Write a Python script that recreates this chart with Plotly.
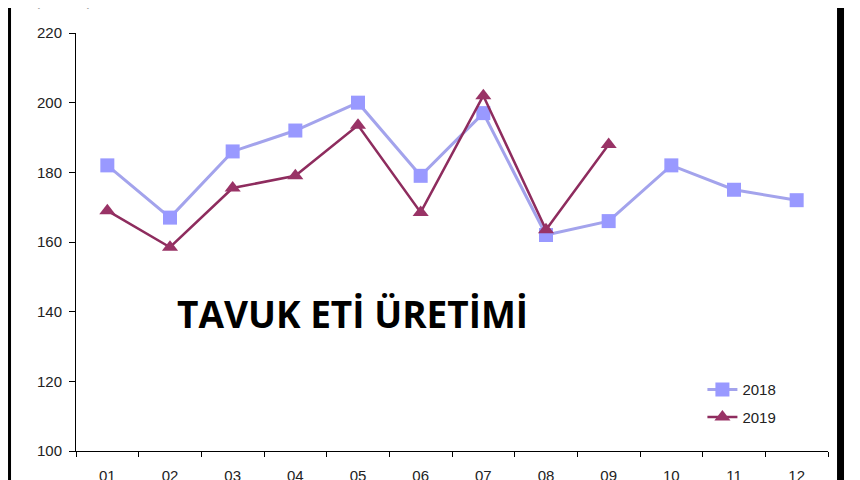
import plotly.graph_objects as go

months = ["01", "02", "03", "04", "05", "06", "07", "08", "09", "10", "11", "12"]
prod_2018 = [182, 167, 186, 192, 200, 179, 197, 162, 166, 182, 175, 172]
prod_2019 = [169, 158.5, 175.5, 179, 193.5, 168.5, 202, 163.5, 188]

fig = go.Figure()

fig.add_trace(go.Scatter(
    x=months, y=prod_2018, name="2018", mode="lines+markers",
    line=dict(color="#A3A3EC", width=3),
    marker=dict(symbol="square", size=14, color="#9999FF"),
    legendgroup="a"))

fig.add_trace(go.Scatter(
    x=months[:len(prod_2019)], y=prod_2019, name="2019", mode="lines+markers",
    line=dict(color="#8E2C5E", width=2.5),
    marker=dict(symbol="triangle-up", size=14, color="#993366"),
    legendgroup="b"))

fig.add_annotation(text="<b>TAVUK ETİ ÜRETİMİ</b>", xref="paper", yref="paper",
                   x=0.368, y=0.262, showarrow=False,
                   font=dict(family="Open Sans", size=37, color="#000000"))

# unit label, mostly cut off at the top edge like in the source image
fig.add_annotation(text="(Bin ton)", xref="paper", yref="paper",
                   x=-0.057, y=1.053, xanchor="left", yanchor="bottom",
                   showarrow=False, font=dict(family="Liberation Sans", size=15, color="#999999"))

# black frame bars on the sides
fig.add_shape(type="rect", xref="paper", yref="paper", x0=-0.0904, x1=-0.0864,
              y0=-0.2, y1=1.2, fillcolor="black", line_width=0, layer="above")
fig.add_shape(type="rect", xref="paper", yref="paper", x0=1.0120, x1=1.0213,
              y0=-0.2, y1=1.2, fillcolor="black", line_width=0, layer="above")

fig.update_xaxes(type="category", range=[-0.5, 11.5], tickson="boundaries",
                 ticks="outside", ticklen=5,
                 tickcolor="black", showline=True, linecolor="black", linewidth=1,
                 showgrid=False, automargin=False,
                 tickfont=dict(family="Liberation Sans", size=15, color="#222222"),
                 ticklabelstandoff=11)
fig.update_yaxes(range=[100, 220], dtick=20, ticks="outside", ticklen=6,
                 tickcolor="black", showline=True, linecolor="black", linewidth=1,
                 showgrid=False, zeroline=False, automargin=False,
                 tickfont=dict(family="Liberation Sans", size=15, color="#222222"),
                 ticklabelstandoff=4)

# page body has an 8px margin, so the figure is sized to fit the 860x480 window
fig.update_layout(
    width=852, height=472,
    margin=dict(l=68, r=32, t=25, b=29, autoexpand=False),
    plot_bgcolor="white", paper_bgcolor="white",
    showlegend=True,
    legend=dict(x=0.833, y=0.186, xanchor="left", yanchor="top",
                bgcolor="rgba(0,0,0,0)", tracegroupgap=5, itemwidth=30,
                font=dict(family="Liberation Sans", size=15, color="#222222")),
)

fig.write_html("out.html")
